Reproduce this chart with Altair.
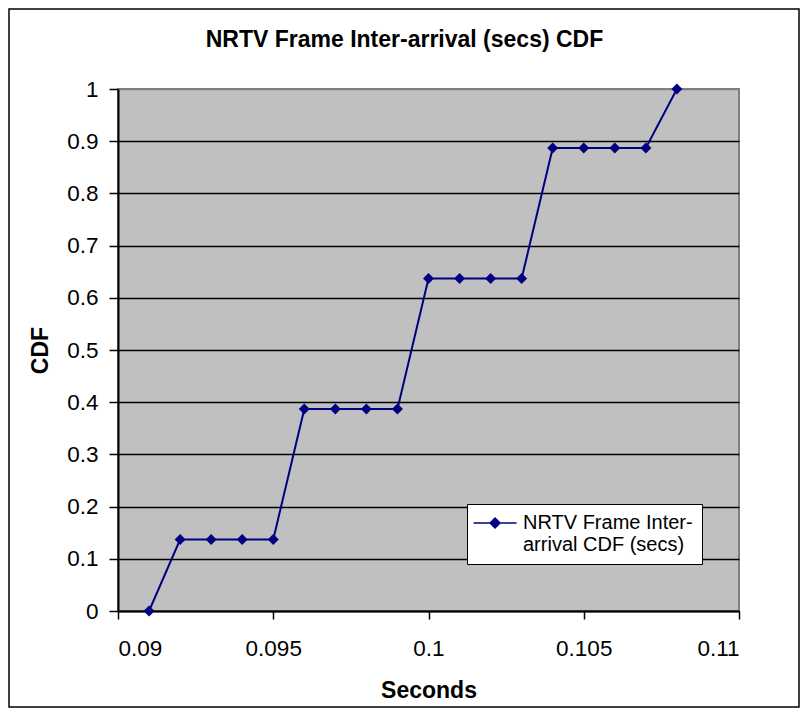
import altair as alt
import pandas as pd

# ---- data ----
seconds = [0.091, 0.092, 0.093, 0.094, 0.095, 0.096, 0.097, 0.098, 0.099,
           0.100, 0.101, 0.102, 0.103, 0.104, 0.105, 0.106, 0.107, 0.108]
cdf = [0.0, 0.137, 0.137, 0.137, 0.137, 0.387, 0.387, 0.387, 0.387,
       0.637, 0.637, 0.637, 0.637, 0.887, 0.887, 0.887, 0.887, 1.0]
series_name = "NRTV Frame Inter-arrival CDF (secs)"
x_ticks = [0.09, 0.095, 0.1, 0.105, 0.11]
y_ticks = [0, 0.1, 0.2, 0.3, 0.4, 0.5, 0.6, 0.7, 0.8, 0.9, 1.0]

df = pd.DataFrame({"Seconds": seconds, "CDF": cdf, "series": [series_name] * len(seconds)})

FONT = "Liberation Sans"
NAVY = "#000080"
W, H = 621, 522

x_enc = alt.X(
    "Seconds:Q",
    scale=alt.Scale(domain=[0.09, 0.11], nice=False, zero=False),
    axis=alt.Axis(
        values=x_ticks, format="~g", grid=False, title="Seconds",
        labelFontSize=22.5, labelFont=FONT, labelColor="black",
        labelPadding=18, tickSize=8, tickColor="black", tickWidth=1.5,
        domainColor="black", domainWidth=2,
        titleFont=FONT, titleFontSize=23, titleFontWeight="bold", titleColor="black",
        titleBaseline="alphabetic", titleY=86,
    ),
)
y_enc = alt.Y(
    "CDF:Q",
    scale=alt.Scale(domain=[0, 1], nice=False),
    axis=alt.Axis(
        values=y_ticks, format="~g", grid=True,
        gridColor=alt.condition("datum.value == 1", alt.value("#808080"), alt.value("black")),
        gridWidth=1.5, title="CDF",
        labelFontSize=22.5, labelFont=FONT, labelColor="black",
        labelPadding=11, tickSize=9, tickColor="black", tickWidth=1.5,
        domainColor="black", domainWidth=2,
        titleFont=FONT, titleFontSize=23, titleFontWeight="bold", titleColor="black",
        titleBaseline="alphabetic", titleAngle=-90, titleX=-71, titleY=H / 2,
    ),
)

line = alt.Chart(df).mark_line(color=NAVY, strokeWidth=2).encode(x=x_enc, y=y_enc)

# legend symbol: a short line with a diamond on it (units of 7 px)
legend_symbol = ("M-1.78,-0.11H4.36V0.11H-1.78Z "
                 "M1.29,-0.86L2.15,0L1.29,0.86L0.43,0Z")

points = alt.Chart(df).mark_point(filled=True, shape="diamond", size=121, opacity=1).encode(
    x=x_enc,
    y=y_enc,
    color=alt.Color(
        "series:N",
        scale=alt.Scale(range=[NAVY]),
        legend=alt.Legend(
            title=None, orient="none", legendX=349, legendY=415,
            fillColor="white", strokeColor="black", padding=9,
            symbolType=legend_symbol, symbolSize=196, symbolOpacity=1,
            symbolFillColor=NAVY, symbolStrokeWidth=0,
            labelExpr="['NRTV Frame Inter-', 'arrival CDF (secs)']",
            labelFont=FONT, labelFontSize=20, labelColor="black",
            labelBaseline="middle", labelOffset=27, labelLimit=400,
        ),
    ),
)

frame_df = pd.DataFrame({"k": [0]})
frame = alt.Chart(frame_df).mark_rect(
    fill=None, stroke="black", strokeWidth=1.5, clip=False
).encode(
    x=alt.value(-109), x2=alt.value(681), y=alt.value(-80), y2=alt.value(618)
)

chart = alt.layer(line, points, frame).properties(
    width=W, height=H,
    background="white",
    title=alt.TitleParams(
        "NRTV Frame Inter-arrival (secs) CDF",
        font=FONT, fontSize=23, fontWeight="bold", color="black",
        anchor="middle", frame="group", baseline="alphabetic", dx=-24, offset=-62,
    ),
    autosize=alt.AutoSizeParams(type="none"),
    padding={"left": 110, "top": 81, "right": 61, "bottom": 97},
).configure_view(
    fill="#C0C0C0", stroke="#808080", strokeWidth=2
)

chart.save("out.html", embed_options={"renderer": "svg", "actions": False})
